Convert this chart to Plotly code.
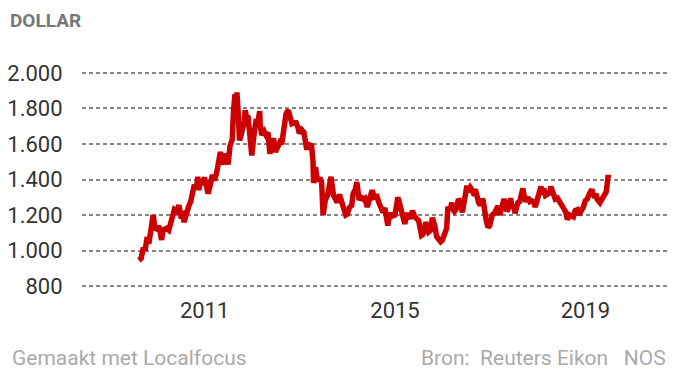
import plotly.graph_objects as go

dates = [
"2009-08-14","2009-09-01","2009-09-17","2009-10-01","2009-10-14","2009-11-02","2009-11-16","2009-12-02","2009-12-16",
"2010-01-04","2010-01-15","2010-02-05","2010-02-16","2010-03-01","2010-03-16","2010-04-01","2010-04-15","2010-05-03","2010-05-14",
"2010-06-01","2010-06-18","2010-07-01","2010-07-15","2010-07-28","2010-08-16","2010-09-01","2010-09-16","2010-10-01","2010-10-14",
"2010-11-01","2010-11-09","2010-11-17","2010-12-01","2010-12-15","2010-12-31",
"2011-01-14","2011-01-28","2011-02-15","2011-03-01","2011-03-16","2011-04-01","2011-04-15","2011-05-02","2011-05-16","2011-06-01",
"2011-06-15","2011-06-30","2011-07-15","2011-08-01","2011-08-10","2011-08-22","2011-08-26","2011-09-06","2011-09-15","2011-09-26",
"2011-10-05","2011-10-17","2011-11-01","2011-11-08","2011-11-16","2011-12-01","2011-12-15","2011-12-29",
"2012-01-13","2012-02-01","2012-02-14","2012-02-28","2012-03-02","2012-03-15","2012-04-02","2012-04-16","2012-05-01","2012-05-16",
"2012-06-01","2012-06-15","2012-06-28","2012-07-16","2012-08-01","2012-08-15","2012-09-03","2012-09-17","2012-10-04","2012-10-16",
"2012-11-01","2012-11-15","2012-12-03","2012-12-17","2012-12-28",
"2013-01-15","2013-02-01","2013-02-20","2013-03-01","2013-03-15","2013-04-01","2013-04-12","2013-04-16","2013-05-01","2013-05-16",
"2013-06-03","2013-06-17","2013-06-28","2013-07-15","2013-08-01","2013-08-15","2013-08-28","2013-09-16","2013-10-01","2013-10-15",
"2013-11-01","2013-11-15","2013-12-02","2013-12-19","2013-12-31",
"2014-01-15","2014-02-03","2014-02-14","2014-03-03","2014-03-14","2014-04-01","2014-04-15","2014-05-01","2014-05-15","2014-06-02",
"2014-06-16","2014-07-01","2014-07-10","2014-07-25","2014-08-15","2014-09-02","2014-09-16","2014-10-01","2014-10-15","2014-11-03",
"2014-11-07","2014-11-17","2014-12-01","2014-12-15","2014-12-31",
"2015-01-15","2015-01-22","2015-02-02","2015-02-16","2015-03-02","2015-03-17","2015-04-01","2015-04-15","2015-05-01","2015-05-15",
"2015-06-01","2015-06-16","2015-07-01","2015-07-24","2015-08-03","2015-08-17","2015-08-24","2015-09-01","2015-09-16","2015-10-01",
"2015-10-15","2015-11-02","2015-11-16","2015-12-01","2015-12-17","2015-12-31",
"2016-01-15","2016-02-01","2016-02-11","2016-03-01","2016-03-11","2016-03-16","2016-04-01","2016-04-15","2016-05-02","2016-05-16",
"2016-06-01","2016-06-15","2016-06-24","2016-07-06","2016-07-15","2016-08-01","2016-08-15","2016-09-01","2016-09-08","2016-09-15",
"2016-10-04","2016-10-17","2016-11-01","2016-11-08","2016-11-15","2016-12-01","2016-12-15","2016-12-28",
"2017-01-16","2017-02-01","2017-02-15","2017-03-01","2017-03-15","2017-04-03","2017-04-17","2017-05-01","2017-05-09","2017-05-16",
"2017-06-01","2017-06-06","2017-06-15","2017-07-03","2017-07-10","2017-08-01","2017-08-15","2017-09-01","2017-09-08","2017-09-15",
"2017-10-02","2017-10-16","2017-11-01","2017-11-15","2017-12-01","2017-12-12","2017-12-28",
"2018-01-15","2018-01-25","2018-02-08","2018-02-15","2018-03-01","2018-03-15","2018-04-02","2018-04-11","2018-04-16","2018-05-01",
"2018-05-15","2018-06-01","2018-06-15","2018-07-02","2018-07-16","2018-08-01","2018-08-16","2018-09-03","2018-09-17","2018-10-01",
"2018-10-15","2018-11-01","2018-11-13","2018-12-03","2018-12-17","2018-12-31",
"2019-01-15","2019-02-01","2019-02-20","2019-03-01","2019-03-15","2019-03-25","2019-04-01","2019-04-23","2019-05-01","2019-05-15",
"2019-05-31","2019-06-10","2019-06-20","2019-06-25","2019-06-28",
]

gold_usd = [
945,955,1015,1000,1060,1055,1120,1200,1125,
1120,1140,1060,1115,1120,1125,1115,1155,1180,1230,
1220,1255,1200,1205,1160,1225,1250,1275,1315,1370,
1350,1415,1340,1390,1385,1410,
1365,1320,1375,1425,1395,1430,1485,1555,1485,1540,
1530,1485,1590,1625,1780,1880,1760,1890,1785,1620,
1640,1680,1720,1790,1760,1750,1590,1535,
1640,1740,1725,1785,1710,1650,1670,1650,1665,1545,
1620,1620,1555,1590,1610,1600,1690,1770,1790,1745,
1715,1720,1720,1695,1660,
1680,1665,1580,1580,1595,1590,1500,1380,1470,1390,
1410,1385,1200,1285,1310,1365,1415,1310,1290,1270,
1315,1285,1235,1200,1205,
1240,1255,1320,1345,1385,1285,1300,1290,1295,1245,
1275,1325,1340,1300,1305,1265,1235,1215,1240,1170,
1140,1185,1210,1195,1200,
1260,1300,1275,1230,1210,1150,1200,1200,1180,1225,
1190,1180,1170,1085,1090,1115,1160,1140,1105,1115,
1185,1140,1080,1065,1050,1060,
1090,1125,1245,1230,1270,1235,1220,1235,1290,1275,
1215,1285,1320,1365,1330,1355,1340,1310,1345,1320,
1270,1255,1290,1280,1225,1170,1130,1140,
1200,1210,1230,1250,1200,1250,1290,1260,1220,1230,
1265,1295,1255,1240,1210,1270,1275,1320,1350,1320,
1275,1300,1275,1280,1275,1245,1290,
1335,1360,1315,1350,1310,1320,1325,1360,1345,1310,
1290,1295,1280,1250,1240,1220,1175,1200,1195,1190,
1225,1230,1200,1225,1245,1280,
1290,1320,1345,1315,1300,1320,1290,1270,1280,1295,
1305,1330,1390,1425,1410,
]

y_tickvals = [800, 1000, 1200, 1400, 1600, 1800, 2000]
y_ticktext = ["800", "1.000", "1.200", "1.400", "1.600", "1.800", "2.000"]
x_tickvals = ["2011-01-01", "2015-01-01", "2019-01-01"]
x_ticktext = ["2011", "2015", "2019"]

FONT = "Roboto, 'Noto Sans', sans-serif"

Y0, Y1 = 772, 2028
TOP, BOT = 68, 375 - 291

fig = go.Figure()
fig.add_trace(go.Scatter(
    x=dates, y=gold_usd, mode="lines",
    line=dict(color="#cc0000", width=5.5),
    hoverinfo="skip", showlegend=False,
))

ph = 375 - TOP - BOT
foot_y = (291 - 358) / ph

fig.update_layout(
    width=675, height=375,
    margin=dict(l=80, r=7, t=TOP, b=BOT),
    paper_bgcolor="white", plot_bgcolor="white",
    font=dict(family=FONT, color="#333333", size=22),
    title=dict(text="<b>DOLLAR</b>", x=10/675, xref="container", xanchor="left",
               y=1-20/375, yref="container", yanchor="middle",
               font=dict(family=FONT, size=19, color="#777777")),
    annotations=[
        dict(text="Gemaakt met Localfocus", xref="paper", yref="paper",
             x=(8-80)/588, y=foot_y, xanchor="left", yanchor="middle",
             showarrow=False, font=dict(family=FONT, size=21, color="#aaaaaa")),
        dict(text="Bron:&nbsp; Reuters Eikon&nbsp;&nbsp;&nbsp;NOS", xref="paper", yref="paper",
             x=1.0, y=foot_y, xanchor="right", yanchor="middle",
             showarrow=False, font=dict(family=FONT, size=21, color="#aaaaaa")),
    ],
)

fig.update_xaxes(
    type="date", range=["2008-06-04", "2020-09-26"],
    tickvals=x_tickvals, ticktext=x_ticktext,
    showgrid=False, zeroline=False, showline=False,
    ticks="outside", ticklen=0, tickcolor="rgba(0,0,0,0)",
    tickfont=dict(family=FONT, size=22, color="#333333"),
)
fig.update_yaxes(
    range=[Y0, Y1],
    tickvals=y_tickvals, ticktext=y_ticktext,
    showgrid=True, gridcolor="#858585", gridwidth=2, griddash="4px,3px",
    zeroline=False, showline=False,
    ticks="outside", ticklen=14, tickcolor="rgba(0,0,0,0)",
    tickfont=dict(family=FONT, size=22, color="#333333"),
)

fig.write_html("out.html", config={"displayModeBar": False, "staticPlot": True},
               post_script="document.body.style.margin='0';document.body.style.padding='0';")
